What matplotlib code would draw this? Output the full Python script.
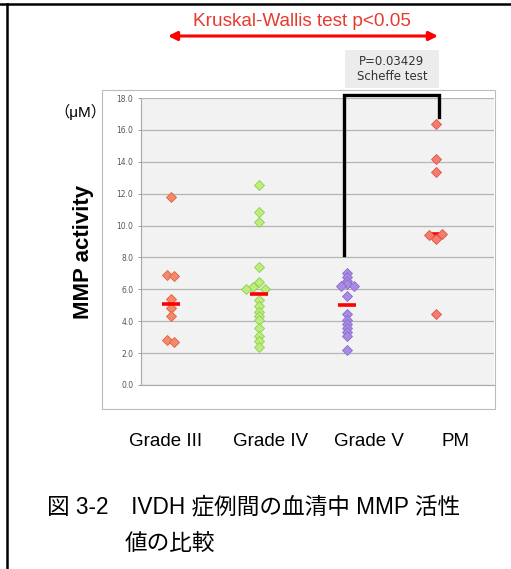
import matplotlib
matplotlib.use('Agg')
import matplotlib.pyplot as plt
from matplotlib.patches import Rectangle
from matplotlib.lines import Line2D

W, H = 511, 569

# values (uM)
groups = ['Grade III', 'Grade IV', 'Grade V', 'PM']
grade3 = [11.8, 6.9, 6.85, 5.4, 4.8, 4.35, 2.8, 2.7]
grade4 = [12.55, 10.85, 10.2, 7.4, 6.45, 6.15, 6.0, 6.05, 5.3, 4.95, 4.6,
          4.3, 4.1, 3.6, 3.05, 2.75, 2.4]
grade5 = [7.05, 6.8, 6.55, 6.35, 6.2, 6.2, 5.6, 4.45, 4.05, 3.8, 3.6, 3.35,
          3.05, 2.2]
pm = [16.35, 14.2, 13.35, 9.4, 9.45, 9.15, 4.45]
medians = [5.1, 5.7, 5.0, 9.45]
yticks = [0, 2, 4, 6, 8, 10, 12, 14, 16, 18]

# horizontal swarm slots (layout only)
slot3 = [0, -0.5, 0.5, 0, 0, 0, -0.5, 0.5]
slot4 = [0, 0, 0, 0, 0, -1, -2, 1, 0, 0, 0, 0, 0, 0, 0, 0, 0]
slot5 = [0, 0, 0, 0, -1, 1, 0, 0, 0, 0, 0, 0, 0, 0]
slotpm = [0, 0, 0, -1, 1, 0, 0]

face = ['#f5896c', '#bdec80', '#a98ce2', '#f57d6c']
edge = ['#e0603f', '#8ccf4c', '#8a6bcf', '#e0504a']

LAT = ['Liberation Sans', 'Noto Sans CJK JP']
JP = ['Liberation Sans', 'Noto Sans CJK JP']


def px(x, y):
    return x / W, 1 - y / H


fig = plt.figure(figsize=(W / 100, H / 100), dpi=100)

# page frame (top and left edge of the scanned page)
fig.add_artist(Line2D([px(0, 4)[0], 1], [px(0, 4)[1]] * 2, color='black', lw=1.8))
fig.add_artist(Line2D([px(6.5, 0)[0]] * 2, [px(0, 3.5)[1], 0], color='black', lw=1.8))

# chart outer box
x0, y0 = px(102, 409)
fig.add_artist(Rectangle((x0, y0), 393 / W, 319 / H, transform=fig.transFigure,
                         facecolor='white', edgecolor='#bcbcbc', lw=0.8, zorder=0))

l, b = px(141, 385)
ax = fig.add_axes([l, b, (494 - 141) / W, (385 - 98) / H])
ax.set_facecolor('#f2f2f2')
ax.set_xlim(0.664, 4.661)
ax.set_ylim(0, 18)
ax.set_yticks(yticks)
ax.set_yticklabels(['%.1f' % t for t in yticks], fontsize=5.5, color='#555555',
                   family='DejaVu Sans')
ax.set_xticks([])
ax.tick_params(axis='y', length=2.5, width=0.7, color='#999999', pad=3)
ax.yaxis.grid(True, color='#b5b5b5', lw=0.9)
ax.set_axisbelow(True)
for s in ['top', 'right']:
    ax.spines[s].set_visible(False)
for s in ['left', 'bottom']:
    ax.spines[s].set_color('#a8a8a8')
    ax.spines[s].set_linewidth(0.8)

slot_w = 0.072
data = [grade3, grade4, grade5, pm]
slots = [slot3, slot4, slot5, slotpm]
for i, (vals, sl) in enumerate(zip(data, slots)):
    xs = [i + 1 + s * slot_w for s in sl]
    ax.plot(xs, vals, 'D', ms=4.8, mfc=face[i], mec=edge[i], mew=0.6,
            linestyle='none', zorder=3)
    ax.hlines(medians[i], i + 1 - 0.1, i + 1 + 0.1, color='#ff0000', lw=2.6,
              zorder=4 if i < 3 else 2.5)

# Scheffe bracket between Grade V and PM
ax.plot([2.96, 2.96, 4.04, 4.04], [8.15, 18.2, 18.2, 16.8], color='black',
        lw=2.4, clip_on=False, zorder=5, solid_joinstyle='miter')

# Kruskal-Wallis annotation
fig.text(*px(302, 21), 'Kruskal-Wallis test p<0.05', color='#e8392f', fontsize=13.7,
         family=LAT, ha='center', va='center')
fig.add_artist(plt.Annotation('', xy=px(438, 36), xytext=px(168, 36),
                              xycoords='figure fraction',
                              arrowprops=dict(arrowstyle='<|-|>', color='#ff0000',
                                              lw=2.2, mutation_scale=13,
                                              shrinkA=0, shrinkB=0)))

# p-value box
bx, by = px(345, 88)
fig.add_artist(Rectangle((bx, by), 94 / W, 38 / H, transform=fig.transFigure,
                         facecolor='#ececec', edgecolor='none', zorder=1))
fig.text(*px(392, 69), 'P=0.03429\nScheffe test', fontsize=8.5, color='#333333',
         family='DejaVu Sans', ha='center', va='center', linespacing=1.15)

# axis texts
fig.text(*px(80, 112), '（μM）', fontsize=11, family=JP, ha='center', va='center')
fig.text(*px(84, 252), 'MMP activity', fontsize=16, fontweight='bold', family=LAT,
         rotation=90, ha='center', va='center')

for name, cx in zip(groups, [166, 271, 369, 455]):
    fig.text(*px(cx, 441), name, fontsize=13.5, family=LAT, ha='center', va='center')

# caption
fig.text(*px(47, 507), '図 3-2　IVDH 症例間の血清中 MMP 活性', fontsize=16.3,
         family=JP, ha='left', va='center')
fig.text(*px(125, 543), '値の比較', fontsize=16.3, family=JP, ha='left', va='center')

fig.savefig('out.png', dpi=100)
